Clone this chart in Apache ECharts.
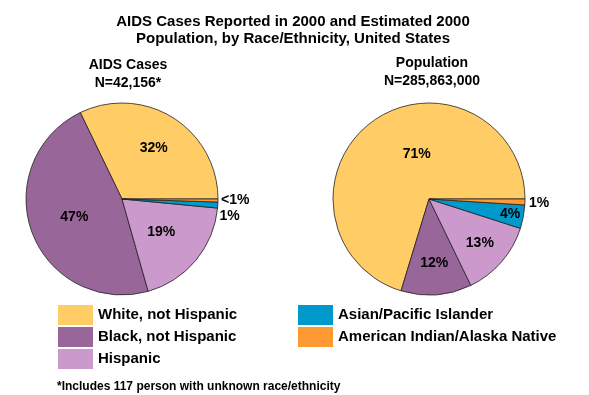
<!DOCTYPE html>
<html>
<head>
<meta charset="utf-8">
<script src="https://cdn.jsdelivr.net/npm/echarts@6/dist/echarts.min.js"></script>
<style>
html,body{margin:0;padding:0;background:#fff;}
#chart{width:589px;height:395px;}
</style>
</head>
<body>
<div id="chart"></div>
<script>
// ---- data ----
var categories = ['White, not Hispanic', 'Black, not Hispanic', 'Hispanic', 'Asian/Pacific Islander', 'American Indian/Alaska Native'];
var aidsValues = [32, 47, 19, 1, 0.5];
var aidsLabels = ['32%', '47%', '19%', '1%', '<1%'];
var popValues = [71, 12, 13, 4, 1];
var popLabels = ['71%', '12%', '13%', '4%', '1%'];
var titleLines = ['AIDS Cases Reported in 2000 and Estimated 2000', 'Population, by Race/Ethnicity, United States'];
var aidsTitle = ['AIDS Cases', 'N=42,156*'];
var popTitle = ['Population', 'N=285,863,000'];
var footnote = '*Includes 117 person with unknown race/ethnicity';

// ---- style / layout ----
var colors = ['#FFCC66', '#996699', '#CC99CC', '#0099CC', '#FF9933'];
var FONT = '"Liberation Sans", Arial, sans-serif';
var centers = [[122, 199], [429, 199]];
var radius = 96;
var smallIdx = { 0: [3, 4], 1: [4] };
var radialFactor = [[1.17, 1, 1, 1, 1], [1, 1.3, 1.32, 1.62, 1]];
var labelNudge = [[[0, 0], [0, 0], [0, 0], [0, 0], [0, 0]], [[18, -4], [0, -2], [0, 0], [0, 0], [-4, 1]]];

function buildData(values, labels, seriesIdx) {
  return categories.map(function (c, i) {
    var outside = smallIdx[seriesIdx].indexOf(i) >= 0;
    return {
      name: c,
      value: values[i],
      labelText: labels[i],
      label: { position: outside ? 'outside' : 'inside' }
    };
  });
}

function pieSeries(values, labels, idx) {
  return {
    type: 'pie',
    center: centers[idx],
    radius: [0, radius],
    startAngle: 0,
    clockwise: false,
    silent: true,
    animation: false,
    avoidLabelOverlap: true,
    data: buildData(values, labels, idx),
    itemStyle: { borderColor: '#222', borderWidth: 0.8 },
    label: {
      show: true,
      color: '#000',
      fontFamily: FONT,
      fontWeight: 'bold',
      fontSize: 14,
      formatter: function (p) { return p.data.labelText; }
    },
    labelLine: { show: false, length: 3, length2: 0 },
    labelLayout: function (p) {
      var f = radialFactor[idx][p.dataIndex] || 1;
      var n = labelNudge[idx][p.dataIndex] || [0, 0];
      var c = centers[idx];
      var lx = p.labelRect.x + p.labelRect.width / 2;
      var ly = p.labelRect.y + p.labelRect.height / 2;
      return { dx: (lx - c[0]) * (f - 1) + n[0], dy: (ly - c[1]) * (f - 1) + n[1] };
    }
  };
}

var legendCommon = {
  orient: 'vertical',
  top: 300,
  itemWidth: 35,
  itemHeight: 20,
  itemGap: 2,
  icon: 'rect',
  selectedMode: false,
  itemStyle: { borderWidth: 0 },
  textStyle: { fontFamily: FONT, fontSize: 15, fontWeight: 'bold', color: '#000' }
};

var chart = echarts.init(document.getElementById('chart'), null, { renderer: 'canvas' });
chart.setOption({
  animation: false,
  color: colors,
  title: [
    {
      text: titleLines.join('\n'),
      left: 288, top: 8, textAlign: 'center',
      textStyle: { fontFamily: FONT, fontSize: 15, fontWeight: 'bold', color: '#000', lineHeight: 17 }
    },
    {
      text: aidsTitle.join('\n'),
      left: 123, top: 51, textAlign: 'center',
      textStyle: { fontFamily: FONT, fontSize: 14, fontWeight: 'bold', color: '#000', lineHeight: 18 }
    },
    {
      text: popTitle.join('\n'),
      left: 427, top: 49, textAlign: 'center',
      textStyle: { fontFamily: FONT, fontSize: 14, fontWeight: 'bold', color: '#000', lineHeight: 18 }
    },
    {
      text: footnote,
      left: 52, top: 376,
      textStyle: { fontFamily: FONT, fontSize: 12, fontWeight: 'bold', color: '#000' }
    }
  ],
  legend: [
    Object.assign({}, legendCommon, { left: 53, data: categories.slice(0, 3) }),
    Object.assign({}, legendCommon, { left: 293, data: categories.slice(3) })
  ],
  series: [
    pieSeries(aidsValues, aidsLabels, 0),
    pieSeries(popValues, popLabels, 1)
  ]
});
</script>
</body>
</html>
